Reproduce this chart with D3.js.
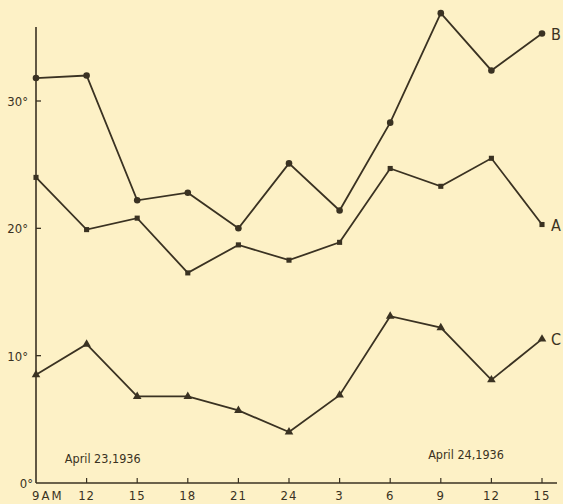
<!DOCTYPE html>
<html><head><meta charset="utf-8">
<script src="https://cdn.jsdelivr.net/npm/d3@7"></script>
<style>
html,body{margin:0;padding:0;background:#fdf1c6;}
svg{display:block;}
text{font-family:"DejaVu Sans Condensed","DejaVu Sans",sans-serif;fill:#3a3222;}
</style></head>
<body>
<svg id="chart" width="563" height="504"></svg>
<script>
const categories = ["9AM","12","15","18","21","24","3","6","9","12","15"];
const seriesB = [31.8,32.0,22.2,22.8,20.0,25.1,21.4,28.3,36.9,32.4,35.3];
const seriesA = [24.0,19.9,20.8,16.5,18.7,17.5,18.9,24.7,23.3,25.5,20.3];
const seriesC = [8.5,10.9,6.8,6.8,5.7,4.0,6.9,13.1,12.2,8.1,11.3];
const yTicks = [0,10,20,30];
const tickLabels = ["9AM","12","15","18","21","24","3","6","9","12","15"];
const dateLabels = [{text:"April 23,1936", at:0.57},{text:"April 24,1936", at:7.75}];

const svg = d3.select("#chart");
const ink = "#3a3222";
const x = d3.scaleLinear().domain([0,10]).range([36,542]);
const y = d3.scaleLinear().domain([0,30]).range([483,101]);

// axes lines
svg.append("line").attr("x1",36).attr("x2",36).attr("y1",27).attr("y2",y(0)).attr("stroke",ink).attr("stroke-width",1.6);
svg.append("line").attr("x1",36).attr("x2",557).attr("y1",y(0)).attr("y2",y(0)).attr("stroke",ink).attr("stroke-width",1.6);

// y ticks
yTicks.forEach(v=>{
  if(v>0) svg.append("line").attr("x1",36).attr("x2",41).attr("y1",y(v)).attr("y2",y(v)).attr("stroke",ink).attr("stroke-width",1.3);
  svg.append("text").attr("x",v===0?33:28).attr("y",y(v)+5).attr("text-anchor","end").attr("font-size",13).text(v+"°");
});

// x ticks
categories.forEach((c,i)=>{
  if(i>0) svg.append("line").attr("x1",x(i)).attr("x2",x(i)).attr("y1",y(0)).attr("y2",y(0)-5).attr("stroke",ink).attr("stroke-width",1.2);
  const t = svg.append("text").attr("y",500).attr("font-size",13).attr("letter-spacing","1").text(tickLabels[i]);
  if(i===0) t.attr("x",x(0)-4).attr("text-anchor","start").attr("letter-spacing","2");
  else t.attr("x",x(i)).attr("text-anchor","middle");
});

dateLabels.forEach(d=>{
  svg.append("text").attr("x",x(d.at)).attr("y",d.at<5?463:459).attr("font-size",12.5).text(d.text);
});

const line = d3.line().x((d,i)=>x(i)).y(d=>y(d));
const series = [
  {name:"B", values:seriesB, marker:"circle"},
  {name:"A", values:seriesA, marker:"square"},
  {name:"C", values:seriesC, marker:"triangle"}
];
series.forEach(s=>{
  svg.append("path").datum(s.values).attr("d",line).attr("fill","none").attr("stroke",ink).attr("stroke-width",1.8);
  const sym = s.marker==="circle"?d3.symbolCircle:(s.marker==="square"?d3.symbolSquare:d3.symbolTriangle);
  const size = s.marker==="circle"?34:(s.marker==="square"?26:32);
  svg.selectAll(null).data(s.values).enter().append("path")
    .attr("d",d3.symbol().type(sym).size(size))
    .attr("transform",(d,i)=>`translate(${x(i)},${y(d)})`)
    .attr("fill",ink);
  const last = s.values[s.values.length-1];
  svg.append("text").attr("x",x(10)+9).attr("y",y(last)+6).attr("font-size",16).text(s.name);
});
</script>
</body></html>
